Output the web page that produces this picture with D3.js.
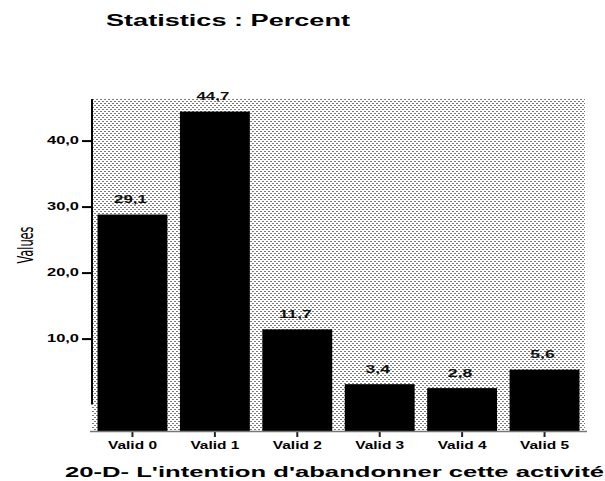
<!DOCTYPE html>
<html>
<head>
<meta charset="utf-8">
<script src="https://cdn.jsdelivr.net/npm/d3@7"></script>
<style>
  html, body { margin: 0; padding: 0; background: #fff; }
  svg { display: block; }
</style>
</head>
<body>
<script>
const categories = ["Valid 0", "Valid 1", "Valid 2", "Valid 3", "Valid 4", "Valid 5"];
const values = [29.1, 44.7, 11.7, 3.4, 2.8, 5.6];
const yTicks = [10, 20, 30, 40];
const chartTitle = "Statistics : Percent";
const xTitle = "20-D- L'intention d'abandonner cette activité";
const yTitle = "Values";

const W = 605, H = 481;
const plot = { left: 92, right: 585, top: 99, bottom: 431 };
const fmt = v => v.toFixed(1).replace(".", ",");
const FONT = "Liberation Sans, Arial, sans-serif";

const svg = d3.select("body").append("svg")
  .attr("width", W).attr("height", H);

const defs = svg.append("defs");
const pat = defs.append("pattern")
  .attr("id", "dots").attr("patternUnits", "userSpaceOnUse")
  .attr("x", plot.left).attr("y", plot.top)
  .attr("width", 4).attr("height", 4);
pat.append("rect").attr("width", 4).attr("height", 4).attr("fill", "#fff");
pat.append("rect").attr("x", 0).attr("y", 0).attr("width", 2).attr("height", 1).attr("fill", "#7a7a7a");
pat.append("rect").attr("x", 2).attr("y", 2).attr("width", 2).attr("height", 1).attr("fill", "#7a7a7a");

const x = d3.scaleBand().domain(categories)
  .range([plot.left, plot.right]).paddingInner(0.152).paddingOuter(0.067);
const y = d3.scaleLinear().domain([-4, 46.3]).range([plot.bottom, plot.top]);

// background
svg.append("rect")
  .attr("x", plot.left).attr("y", plot.top)
  .attr("width", plot.right - plot.left).attr("height", plot.bottom - plot.top)
  .attr("fill", "url(#dots)");

// bars
svg.selectAll("rect.bar").data(values).enter().append("rect")
  .attr("class", "bar")
  .attr("x", (d, i) => x(categories[i]))
  .attr("width", x.bandwidth())
  .attr("y", d => y(d) + 2)
  .attr("height", d => plot.bottom - y(d) - 2)
  .attr("fill", "#000");

// value labels
svg.selectAll("text.val").data(values).enter().append("text")
  .attr("class", "val")
  .attr("x", (d, i) => x(categories[i]) + x.bandwidth() / 2 - 2)
  .attr("y", d => y(d) + 2 - 11.5)
  .attr("text-anchor", "middle")
  .attr("font-family", FONT)
  .attr("font-weight", "bold")
  .attr("font-size", 11.5)
  .attr("textLength", d => fmt(d).length * 8.2)
  .attr("lengthAdjust", "spacingAndGlyphs")
  .attr("fill", "#111")
  .text(d => fmt(d));

// y axis
const yAxis = d3.axisLeft(y).tickValues(yTicks).tickFormat(fmt).tickSize(10).tickPadding(3);
const gy = svg.append("g").attr("transform", `translate(${plot.left},0)`).call(yAxis);
gy.select(".domain").remove();
gy.selectAll(".tick line").attr("stroke", "#000").attr("stroke-width", 2);
gy.selectAll(".tick text")
  .attr("font-family", FONT)
  .attr("font-weight", "bold")
  .attr("font-size", 10)
  .attr("fill", "#000")
  .attr("textLength", 32)
  .attr("lengthAdjust", "spacingAndGlyphs");
svg.append("line")
  .attr("x1", plot.left).attr("x2", plot.left)
  .attr("y1", plot.top).attr("y2", y(0))
  .attr("stroke", "#000").attr("stroke-width", 2);

// x axis
const xAxis = d3.axisBottom(x).tickSize(6).tickPadding(4);
const gx = svg.append("g").attr("transform", `translate(0,${plot.bottom})`).call(xAxis);
gx.select(".domain").remove();
gx.selectAll(".tick line").attr("stroke", "#222").attr("stroke-width", 2);
gx.selectAll(".tick text")
  .attr("font-family", FONT)
  .attr("font-weight", "bold")
  .attr("font-size", 11)
  .attr("fill", "#000")
  .attr("textLength", 49)
  .attr("lengthAdjust", "spacingAndGlyphs");
svg.append("line")
  .attr("x1", plot.left - 2).attr("x2", plot.right + 2)
  .attr("y1", plot.bottom + 0.5).attr("y2", plot.bottom + 0.5)
  .attr("stroke", "#777").attr("stroke-width", 1.5);

// titles
svg.append("text")
  .attr("x", 106).attr("y", 26)
  .attr("font-family", FONT)
  .attr("font-weight", "bold").attr("font-size", 16)
  .attr("textLength", 244).attr("lengthAdjust", "spacingAndGlyphs")
  .attr("fill", "#000")
  .text(chartTitle);

svg.append("text")
  .attr("x", 65).attr("y", 477)
  .attr("font-family", FONT)
  .attr("font-weight", "bold").attr("font-size", 14.5)
  .attr("textLength", 539).attr("lengthAdjust", "spacingAndGlyphs")
  .attr("fill", "#000")
  .text(xTitle);

svg.append("text")
  .attr("transform", "translate(33,245) rotate(-90)")
  .attr("text-anchor", "middle")
  .attr("font-family", "Liberation Sans Narrow, DejaVu Sans Condensed, sans-serif")
  .attr("font-size", 22)
  .attr("textLength", 37).attr("lengthAdjust", "spacingAndGlyphs")
  .attr("fill", "#000")
  .text(yTitle);
</script>
</body>
</html>
